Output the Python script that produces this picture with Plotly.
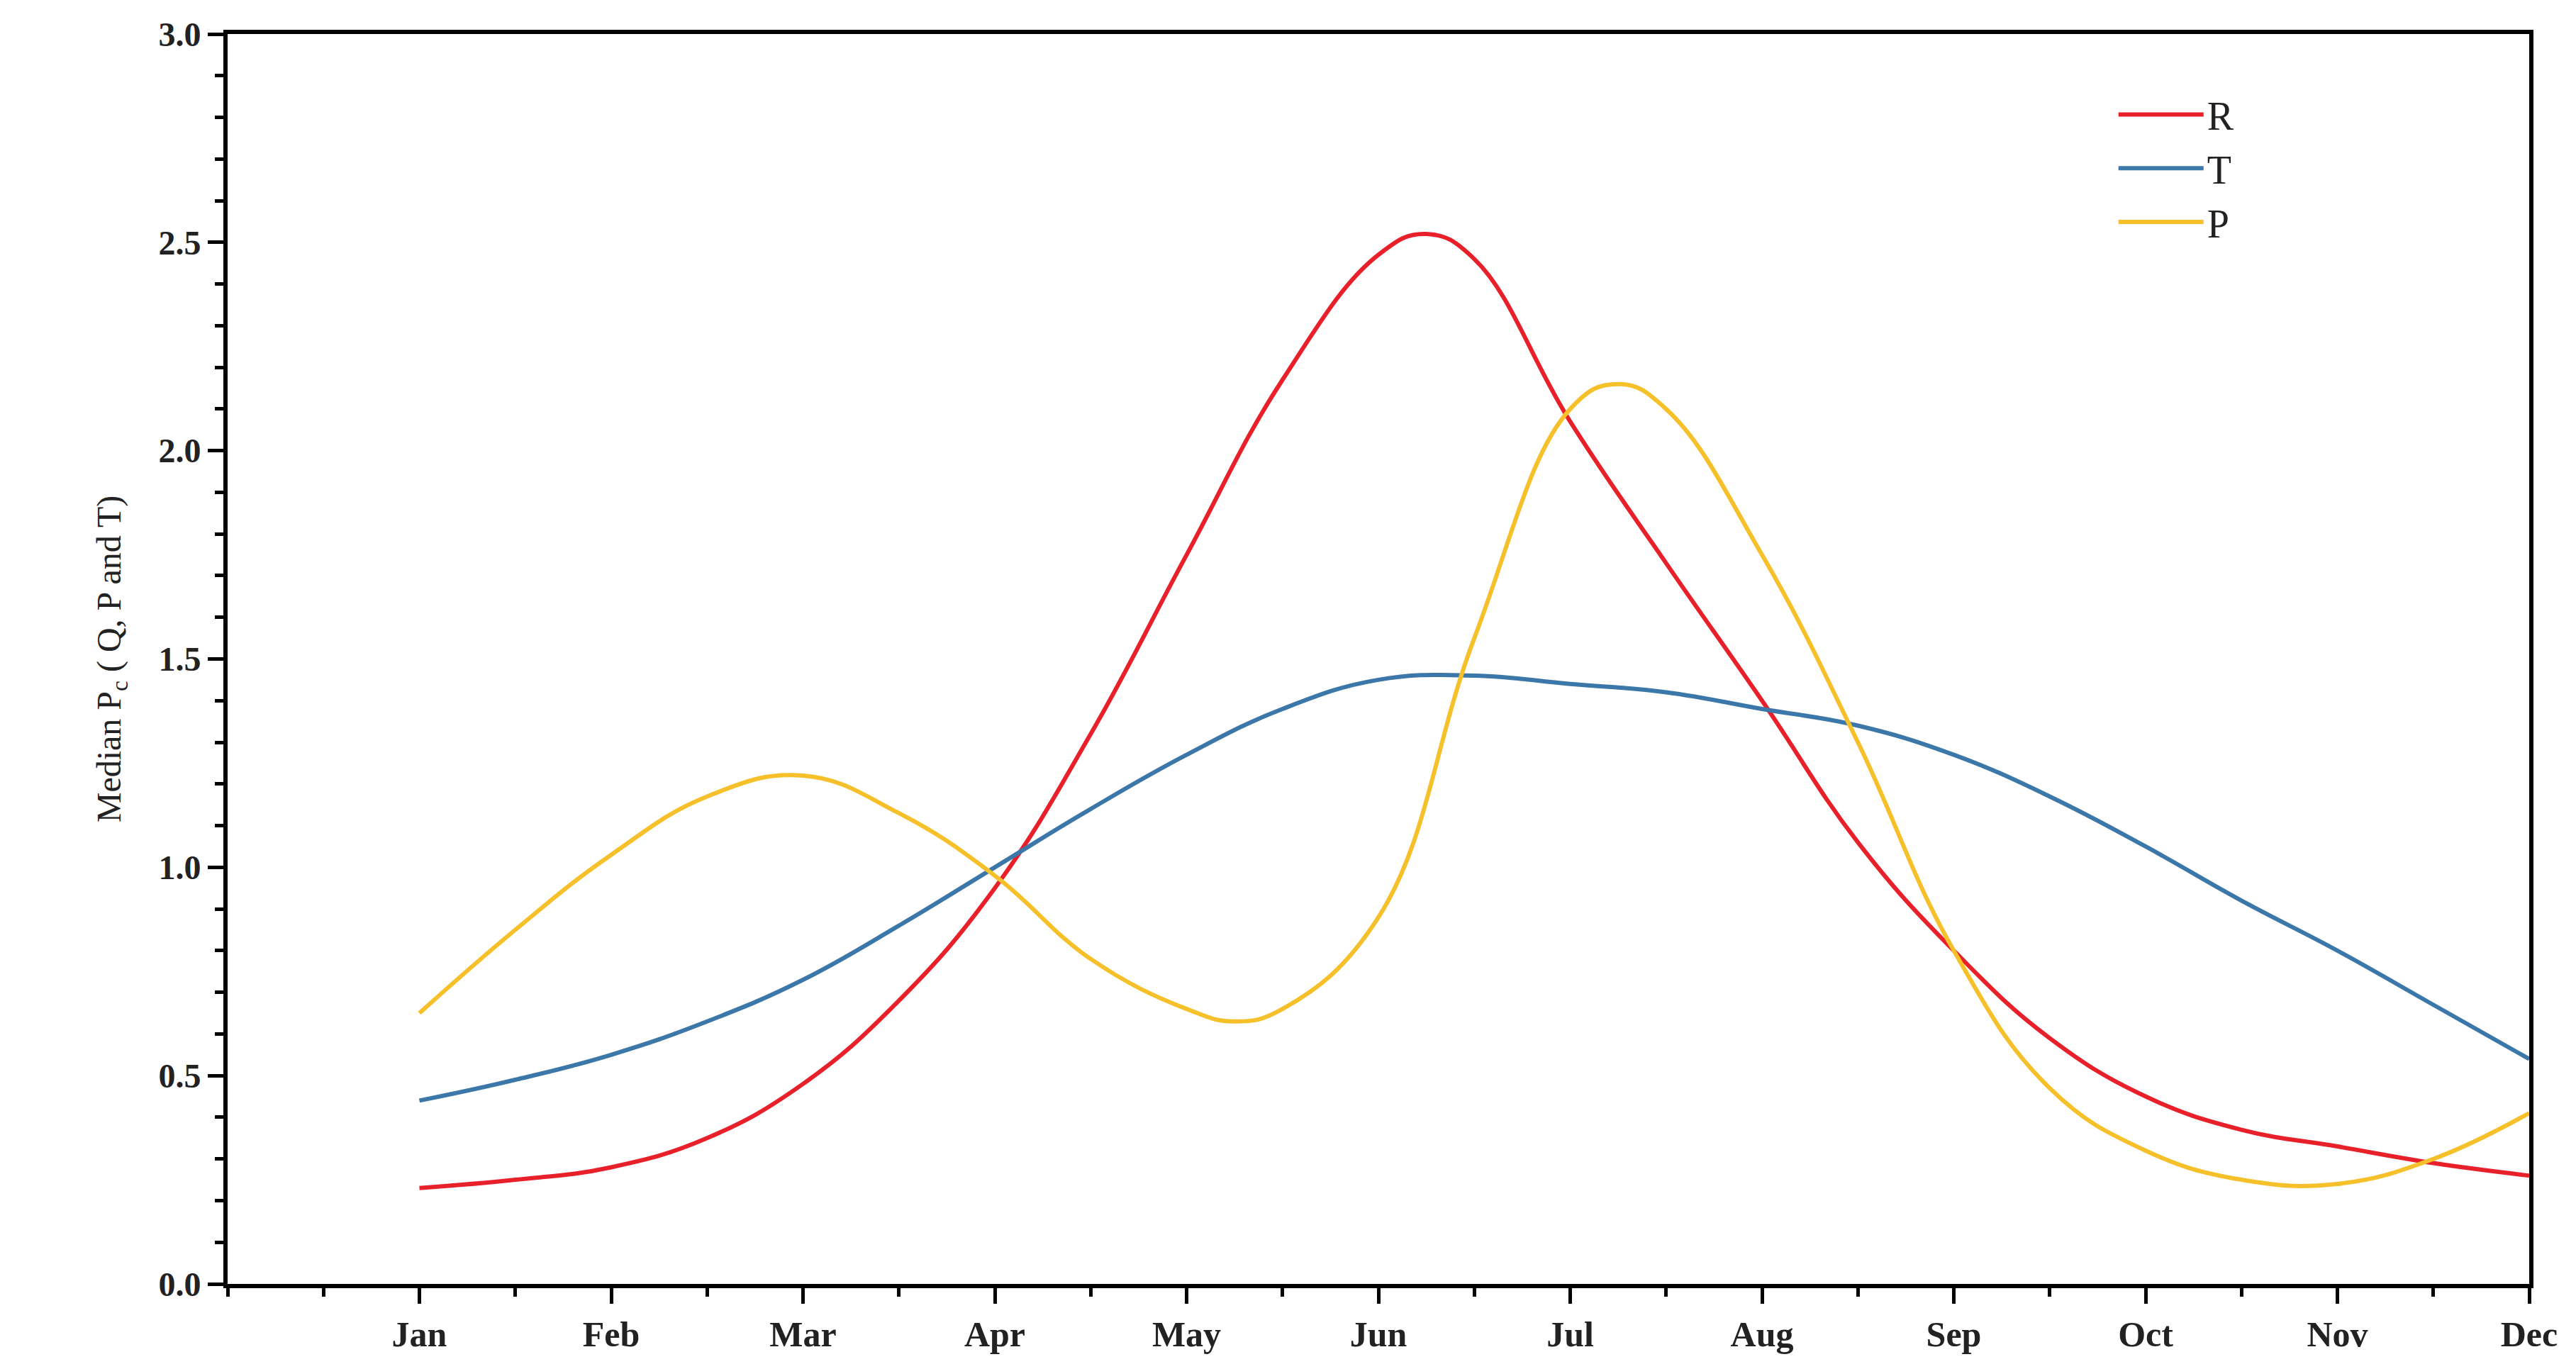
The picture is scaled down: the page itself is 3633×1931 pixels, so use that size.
import plotly.graph_objects as go

months = ["Jan","Feb","Mar","Apr","May","Jun","Jul","Aug","Sep","Oct","Nov","Dec"]
x_r = [1,1.5,2,2.5,3,3.5,4,4.5,5,5.5,6,6.25,6.5,7,7.5,8,8.5,9,9.5,10,10.5,11,11.5,12]
r_vals = [0.23,0.25,0.28,0.35,0.48,0.68,0.95,1.32,1.75,2.17,2.47,2.52,2.46,2.07,1.73,1.4,1.06,0.8,0.59,0.45,0.37,0.33,0.29,0.26]
x_t = [1,1.5,2,2.5,3,3.5,4,4.5,5,5.5,6,6.5,7,7.5,8,8.5,9,9.5,10,10.5,11,11.5,12]
t_vals = [0.44,0.49,0.55,0.63,0.73,0.86,1.0,1.14,1.27,1.38,1.45,1.46,1.44,1.42,1.38,1.34,1.27,1.17,1.05,0.92,0.8,0.67,0.54]
x_p = [1,1.5,2,2.5,3,3.5,4,4.5,5,5.25,5.5,6,6.5,7,7.25,7.5,8,8.5,9,9.5,10,10.5,11,11.5,12]
p_vals = [0.65,0.85,1.03,1.17,1.22,1.13,0.98,0.78,0.66,0.63,0.66,0.88,1.55,2.1,2.16,2.1,1.75,1.3,0.8,0.47,0.32,0.25,0.24,0.3,0.41]

font = "Liberation Serif"
fig = go.Figure()
for name, xs, ys, col in [("R", x_r, r_vals, "#e8202a"), ("T", x_t, t_vals, "#3b77a8"), ("P", x_p, p_vals, "#f6c02a")]:
    fig.add_trace(go.Scatter(x=xs, y=ys, name=name, mode="lines",
                             line=dict(color=col, width=6, shape="spline", smoothing=1.2)))

fig.update_layout(
    width=3633, height=1931, plot_bgcolor="white", paper_bgcolor="white",
    margin=dict(l=313, r=74, t=40, b=128),
    font=dict(family=font, size=48, color="#222"),
    legend=dict(x=0.82, y=0.96, xanchor="left", yanchor="top", bgcolor="rgba(0,0,0,0)",
                font=dict(size=56, family=font), itemwidth=120),
    showlegend=True,
)
fig.update_xaxes(range=[0, 12], tickmode="array", tickvals=list(range(1, 13)),
                 ticktext=["<b>%s</b>" % m for m in months],
                 showgrid=False, zeroline=False, showline=True, linecolor="black", linewidth=6,
                 mirror=True, ticks="outside", ticklen=22, tickwidth=5, tickcolor="black",
                 tickfont=dict(size=50, family=font),
                 minor=dict(tickvals=[0] + [i + 0.5 for i in range(12)], ticks="outside", ticklen=12, tickwidth=5, tickcolor="black"))
fig.update_yaxes(range=[0, 3.0], tickmode="array", tickvals=[0, 0.5, 1, 1.5, 2, 2.5, 3],
                 ticktext=["<b>%s</b>" % t for t in ["0.0", "0.5", "1.0", "1.5", "2.0", "2.5", "3.0"]],
                 showgrid=False, zeroline=False, showline=True, linecolor="black", linewidth=6,
                 mirror=True, ticks="outside", ticklen=22, tickwidth=5, tickcolor="black",
                 tickfont=dict(size=48, family=font),
                 minor=dict(dtick=0.1, ticks="outside", ticklen=12, tickwidth=5, tickcolor="black"),
                 title=dict(text="Median P<sub>c</sub> ( Q, P and T)", font=dict(size=48, family=font), standoff=40))
fig.write_html("out.html")
